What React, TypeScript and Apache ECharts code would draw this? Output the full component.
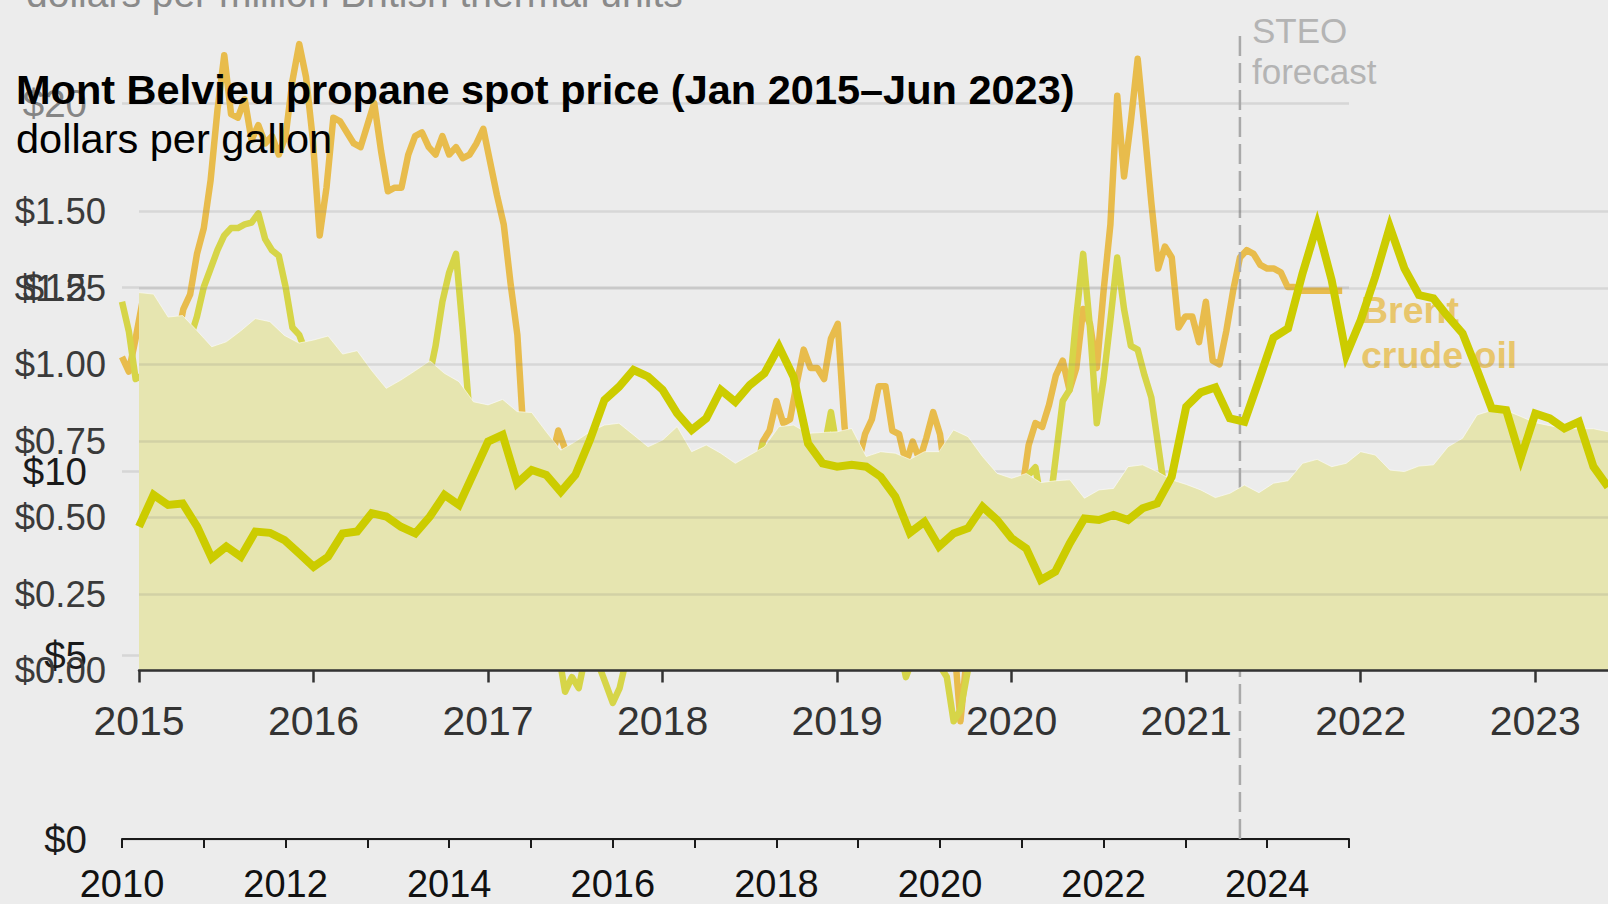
import React, { useEffect, useRef } from 'react';
import * as echarts from 'echarts';

const FONT = 'Liberation Sans, Arial, Helvetica, sans-serif';

// ---------- Background chart: dollars per million British thermal units ----------
// monthly categories Jan 2010 … Jan 2025
const bgMonths: string[] = [];
for (let y = 2010; y <= 2025; y++) {
  for (let m = 1; m <= 12; m++) {
    if (y === 2025 && m > 1) break;
    bgMonths.push(`${y}-${String(m).padStart(2, '0')}`);
  }
}
const bgYTicks = [0, 5, 10, 15, 20];
const forecastStart = '2023-09';

// Brent crude oil, $/MMBtu (Jan 2010 – Dec 2024, forecast from Sep 2023)
const brent: number[] = [
  13.1, 12.7, 13.6, 14.6, 13.1, 12.9, 13.0, 13.3, 13.5, 14.4, 14.8, 15.9,
  16.6, 17.9, 19.8, 21.3, 19.7, 19.6, 20.1, 19.0, 19.4, 18.9, 19.1, 18.6,
  19.1, 20.6, 21.6, 20.7, 19.0, 16.4, 17.7, 19.6, 19.5, 19.2, 18.9, 18.8,
  19.4, 20.0, 18.7, 17.6, 17.7, 17.7, 18.6, 19.1, 19.2, 18.8, 18.6, 19.1,
  18.6, 18.8, 18.5, 18.6, 18.9, 19.3, 18.4, 17.5, 16.7, 15.1, 13.7, 10.7,
  8.2, 10.0, 9.6, 10.3, 11.1, 10.6, 9.8, 8.0, 8.2, 8.3, 7.6, 6.6,
  5.3, 5.6, 6.6, 7.2, 8.1, 8.4, 7.7, 7.9, 8.1, 8.9, 8.1, 9.5,
  9.4, 9.5, 8.9, 9.0, 8.7, 8.0, 8.4, 8.9, 9.7, 9.9, 10.8, 11.1,
  11.9, 11.3, 11.4, 12.4, 13.3, 12.8, 12.8, 12.5, 13.6, 14.0, 11.2, 9.9,
  10.2, 11.0, 11.4, 12.3, 12.3, 11.1, 11.0, 10.2, 10.8, 10.3, 10.9, 11.6,
  11.0, 9.6, 5.5, 3.2, 5.1, 6.9, 7.4, 7.7, 7.1, 6.9, 7.4, 8.6,
  9.4, 10.7, 11.3, 11.2, 11.8, 12.6, 13.0, 12.2, 12.8, 14.4, 14.0, 12.8,
  14.9, 16.7, 20.2, 18.0, 19.5, 21.2, 19.3, 17.3, 15.5, 16.1, 15.8, 13.9,
  14.2, 14.2, 13.5, 14.6, 13.0, 12.9, 13.8, 14.9, 15.8, 16.0, 15.9, 15.6,
  15.5, 15.5, 15.4, 15.0, 15.0, 14.9, 14.9, 14.9, 14.9, 14.9, 14.9, 14.9,
];

// Propane, $/MMBtu (Jan 2010 – Aug 2023)
const propaneBtu: number[] = [
  14.6, 13.8, 12.5, 12.6, 12.0, 10.8, 10.7, 11.0, 11.5, 12.7, 13.6, 14.2,
  15.0, 15.5, 16.0, 16.4, 16.6, 16.6, 16.7, 16.75, 17.0, 16.3, 16.0, 15.85,
  15.0, 13.9, 13.7, 13.2, 12.0, 10.0, 9.4, 9.8, 10.3, 10.5, 10.0, 9.8,
  9.8, 9.5, 9.7, 10.2, 10.3, 10.1, 10.3, 10.8, 12.0, 12.5, 13.4, 14.6,
  15.4, 15.9, 13.8, 11.5, 11.3, 11.0, 11.0, 11.2, 11.5, 10.3, 8.5, 6.3,
  5.1, 6.3, 5.9, 6.0, 5.1, 4.0, 4.4, 4.1, 5.0, 4.9, 4.7, 4.2,
  3.7, 4.1, 4.9, 5.0, 5.6, 5.5, 5.1, 4.9, 5.5, 6.3, 5.9, 7.0,
  8.2, 8.4, 6.7, 7.2, 7.0, 6.4, 7.0, 8.2, 9.7, 10.1, 10.7, 10.5,
  10.0, 9.2, 8.6, 9.0, 10.0, 9.6, 10.2, 10.6, 11.6, 10.5, 8.1, 7.4,
  7.3, 7.3, 7.3, 6.9, 6.2, 4.9, 5.3, 4.4, 4.9, 5.1, 5.8, 5.4,
  4.7, 4.4, 3.2, 3.5, 4.5, 5.4, 5.4, 5.6, 5.4, 5.8, 6.0, 6.9,
  9.4, 9.9, 10.1, 9.0, 8.9, 10.4, 11.9, 12.2, 14.2, 15.9, 13.9, 11.3,
  12.5, 14.1, 15.8, 14.4, 13.4, 13.3, 12.6, 12.0, 10.7, 9.4, 9.3, 7.6,
  9.2, 9.0, 8.6, 8.9, 7.3, 6.6, 6.9, 7.4,
];

// ---------- Foreground chart: Mont Belvieu propane spot price ----------
const fgMonths: string[] = [];
for (let y = 2015; y <= 2023; y++) {
  for (let m = 1; m <= 12; m++) {
    if (y === 2023 && m > 6) break;
    fgMonths.push(`${y}-${String(m).padStart(2, '0')}`);
  }
}
const fgYTicks = [0, 0.25, 0.5, 0.75, 1.0, 1.25, 1.5];

// propane spot price, dollars per gallon (Jan 2015 – Jun 2023)
const propaneGal: number[] = [
  0.47, 0.574, 0.541, 0.546, 0.47, 0.367, 0.405, 0.372, 0.454, 0.45, 0.426, 0.383,
  0.339, 0.372, 0.448, 0.454, 0.514, 0.503, 0.47, 0.448, 0.503, 0.574, 0.541, 0.644,
  0.748, 0.77, 0.612, 0.655, 0.639, 0.584, 0.639, 0.753, 0.884, 0.927, 0.982, 0.96,
  0.917, 0.84, 0.786, 0.824, 0.917, 0.878, 0.933, 0.971, 1.058, 0.96, 0.742, 0.677,
  0.666, 0.672, 0.666, 0.633, 0.568, 0.45, 0.486, 0.405, 0.448, 0.465, 0.535, 0.492,
  0.432, 0.399, 0.296, 0.323, 0.416, 0.497, 0.492, 0.508, 0.492, 0.53, 0.546, 0.633,
  0.862, 0.909, 0.925, 0.824, 0.813, 0.949, 1.088, 1.118, 1.298, 1.456, 1.276, 1.031,
  1.145, 1.287, 1.45, 1.314, 1.227, 1.216, 1.156, 1.102, 0.982, 0.857, 0.851, 0.693,
  0.84, 0.824, 0.791, 0.813, 0.666, 0.6,
];

// shaded band, dollars per gallon (Jan 2015 – Jun 2023)
const bandGal: number[] = [
  1.235, 1.23, 1.155, 1.16, 1.11, 1.058, 1.074, 1.11, 1.15, 1.14, 1.095, 1.07,
  1.08, 1.093, 1.034, 1.045, 0.98, 0.922, 0.949, 0.98, 1.012, 0.971, 0.944, 0.878,
  0.868, 0.886, 0.846, 0.843, 0.78, 0.72, 0.748, 0.78, 0.802, 0.808, 0.77, 0.731,
  0.753, 0.797, 0.715, 0.737, 0.71, 0.677, 0.704, 0.731, 0.797, 0.802, 0.775, 0.778,
  0.78, 0.791, 0.699, 0.715, 0.71, 0.69, 0.715, 0.715, 0.786, 0.764, 0.699, 0.644,
  0.628, 0.644, 0.614, 0.62, 0.623, 0.563, 0.59, 0.595, 0.666, 0.672, 0.65, 0.623,
  0.608, 0.59, 0.565, 0.579, 0.606, 0.581, 0.612, 0.62, 0.677, 0.69, 0.666, 0.677,
  0.715, 0.704, 0.655, 0.65, 0.668, 0.672, 0.731, 0.759, 0.835, 0.85, 0.85, 0.83,
  0.81, 0.8, 0.79, 0.79, 0.79, 0.78,
];

export default function App() {
  const ref = useRef<HTMLDivElement>(null);

  useEffect(() => {
    document.body.style.margin = '0';
    if (!ref.current) return;
    const chart = echarts.init(ref.current, null, { renderer: 'svg' });

    const isJan = (_i: number, v: string) => v.endsWith('-01');

    const option: any = {
      animation: false,
      backgroundColor: '#ececec',
      textStyle: { fontFamily: FONT },
      grid: [
        { left: 122, right: 259, top: 103, bottom: 65 },
        { left: 139, right: -12.7, top: 211.5, bottom: 233.5 },
      ],
      xAxis: [
        {
          gridIndex: 0,
          type: 'category',
          data: bgMonths,
          boundaryGap: false,
          z: 0,
          axisLine: { lineStyle: { color: '#1a1a1a', width: 2 } },
          axisTick: { show: true, length: 9, interval: isJan, lineStyle: { color: '#1a1a1a', width: 2 } },
          axisLabel: {
            interval: (_i: number, v: string) => v.endsWith('-01') && Number(v.slice(0, 4)) % 2 === 0,
            formatter: (v: string) => v.slice(0, 4),
            fontSize: 38,
            color: '#111',
            margin: 26,
            fontFamily: FONT,
          },
          splitLine: { show: false },
        },
        {
          gridIndex: 1,
          type: 'category',
          data: fgMonths,
          boundaryGap: false,
          z: 4,
          axisLine: { lineStyle: { color: '#333', width: 2.5 } },
          axisTick: { show: true, length: 12, interval: isJan, lineStyle: { color: '#333', width: 2.5 } },
          axisLabel: {
            interval: isJan,
            formatter: (v: string) => v.slice(0, 4),
            fontSize: 41,
            color: '#333',
            margin: 30,
            fontFamily: FONT,
          },
          splitLine: { show: false },
        },
      ],
      yAxis: [
        {
          gridIndex: 0,
          type: 'value',
          min: bgYTicks[0],
          max: bgYTicks[bgYTicks.length - 1],
          interval: 5,
          z: 0,
          axisLine: { show: false },
          axisTick: { show: false },
          axisLabel: {
            formatter: (v: number) => '$' + v,
            fontSize: 38.5,
            margin: 35,
            fontFamily: FONT,
            color: (v: any) => (Number(v) >= 20 ? '#858585' : Number(v) >= 15 ? '#3a3a3a' : '#1a1a1a'),
          },
          splitLine: { show: true, lineStyle: { color: '#d6d6d6', width: 2.5 } },
        },
        {
          gridIndex: 1,
          type: 'value',
          min: fgYTicks[0],
          max: fgYTicks[fgYTicks.length - 1],
          interval: 0.25,
          z: 4,
          axisLine: { show: false },
          axisTick: { show: false },
          axisLabel: {
            formatter: (v: number) => '$' + v.toFixed(2),
            fontSize: 36.5,
            margin: 33,
            color: '#3a3a3a',
            fontFamily: FONT,
          },
          splitLine: { show: true, lineStyle: { color: 'rgba(110,110,110,0.17)', width: 2.5 } },
        },
      ],
      series: [
        {
          name: 'Brent crude oil',
          type: 'line',
          xAxisIndex: 0,
          yAxisIndex: 0,
          data: brent,
          symbol: 'none',
          clip: false,
          z: 1,
          lineStyle: { color: '#e8bc4c', width: 6.5, join: 'round' },
        },
        {
          name: 'Propane ($/MMBtu)',
          type: 'line',
          xAxisIndex: 0,
          yAxisIndex: 0,
          data: propaneBtu,
          symbol: 'none',
          clip: false,
          z: 1,
          lineStyle: { color: '#d6d548', width: 6.5, join: 'round' },
        },
        {
          name: 'forecast divider',
          type: 'line',
          xAxisIndex: 0,
          yAxisIndex: 0,
          data: [[forecastStart, 0], [forecastStart, 22]],
          clip: false,
          symbol: 'none',
          z: 1,
          lineStyle: { color: '#a9a9a9', width: 2.5, type: [20, 7] },
        },
        {
          name: 'band',
          type: 'line',
          xAxisIndex: 1,
          yAxisIndex: 1,
          data: bandGal,
          symbol: 'none',
          z: 3,
          lineStyle: { color: 'rgba(255,255,255,0.55)', width: 1 },
          areaStyle: { color: '#e6e5b0', opacity: 1 },
        },
        {
          name: 'Mont Belvieu propane',
          type: 'line',
          xAxisIndex: 1,
          yAxisIndex: 1,
          data: propaneGal,
          symbol: 'none',
          z: 5,
          lineStyle: { color: '#cccc00', width: 8, join: 'miter', miterLimit: 4 },
        },
      ],
      graphic: [
        {
          type: 'text',
          z: 1,
          style: {
            text: 'dollars per million British thermal units',
            x: 26, y: -6.5, fontSize: 39, fontFamily: FONT, fill: '#8a8a8a',
            align: 'left', verticalAlign: 'middle',
          },
        },
        {
          type: 'text',
          z: 1,
          style: { text: 'STEO', x: 1252, y: 30, fontSize: 35, fontFamily: FONT, fill: '#b4b4b4', align: 'left', verticalAlign: 'middle' },
        },
        {
          type: 'text',
          z: 1,
          style: { text: 'forecast', x: 1252, y: 71, fontSize: 35, fontFamily: FONT, fill: '#b4b4b4', align: 'left', verticalAlign: 'middle' },
        },
        {
          type: 'text',
          z: 2,
          style: { text: 'Brent', x: 1361, y: 310, fontSize: 37.5, fontWeight: 'bold', fontFamily: FONT, fill: '#e8c66c', align: 'left', verticalAlign: 'middle' },
        },
        {
          type: 'text',
          z: 2,
          style: { text: 'crude oil', x: 1361, y: 355, fontSize: 37.5, fontWeight: 'bold', fontFamily: FONT, fill: '#e8c66c', align: 'left', verticalAlign: 'middle' },
        },
        {
          type: 'text',
          z: 10,
          style: {
            text: 'Mont Belvieu propane spot price (Jan 2015\u2013Jun 2023)',
            x: 16, y: 89, fontSize: 41.5, fontWeight: 'bold', fontFamily: FONT, fill: '#000',
            align: 'left', verticalAlign: 'middle',
          },
        },
        {
          type: 'text',
          z: 10,
          style: {
            text: 'dollars per gallon',
            x: 16, y: 138.5, fontSize: 41.5, fontFamily: FONT, fill: '#000',
            align: 'left', verticalAlign: 'middle',
          },
        },
      ],
    };

    chart.setOption(option);
    return () => chart.dispose();
  }, []);

  return <div ref={ref} style={{ width: 1608, height: 904, position: 'absolute', left: 0, top: 0 }} />;
}
